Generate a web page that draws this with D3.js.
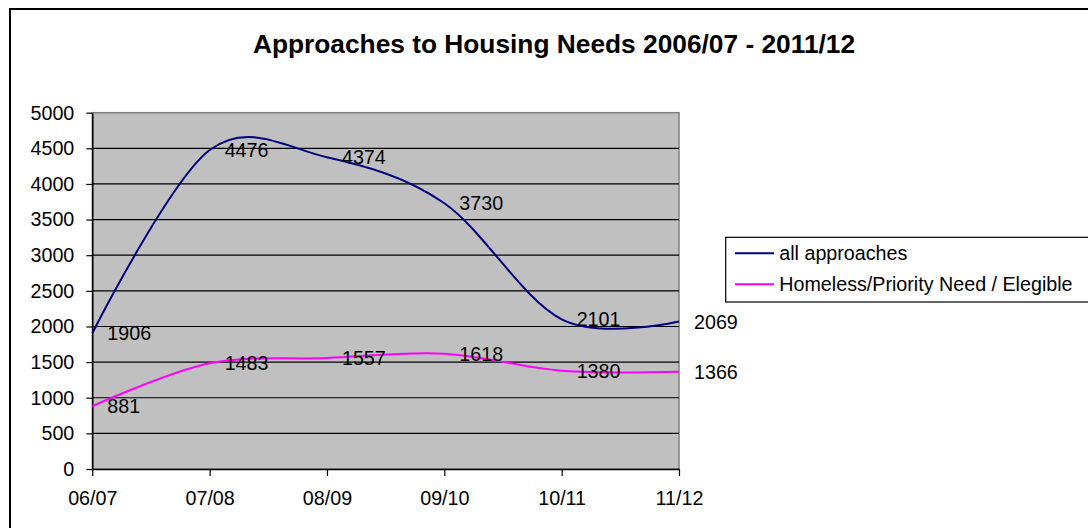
<!DOCTYPE html>
<html>
<head>
<meta charset="utf-8">
<script src="https://cdn.jsdelivr.net/npm/d3@7"></script>
<style>
  html, body { margin: 0; padding: 0; background: #fff; }
  svg { display: block; font-family: "Liberation Sans", Arial, sans-serif; }
</style>
</head>
<body>
<svg id="chart" width="1088" height="528"></svg>
<script>
const categories = ["06/07", "07/08", "08/09", "09/10", "10/11", "11/12"];
const allApproaches = [1906, 4476, 4374, 3730, 2101, 2069];
const homeless = [881, 1483, 1557, 1618, 1380, 1366];
const yTicks = [0, 500, 1000, 1500, 2000, 2500, 3000, 3500, 4000, 4500, 5000];
const seriesNames = ["all approaches", "Homeless/Priority Need / Elegible"];
const seriesColors = ["#000080", "#FF00FF"];
const titleText = "Approaches to Housing Needs 2006/07 - 2011/12";

(function () {
const svg = d3.select("#chart");
const FS = "19.7px";

const pLeft = 92.3, pRight = 679, pTop = 112.7, pBottom = 469;
const x = d3.scalePoint().domain(categories).range([pLeft, pRight]);
const y = d3.scaleLinear().domain([0, 5000]).range([pBottom, pTop]);

// outer chart border
svg.append("rect").attr("x", 10).attr("y", 9).attr("width", 1200).attr("height", 600)
  .attr("fill", "#fff").attr("stroke", "#000").attr("stroke-width", 2);

// title
svg.append("text").attr("x", 554).attr("y", 53).attr("text-anchor", "middle")
  .attr("font-size", "26.3px").attr("font-weight", "bold").attr("fill", "#000").text(titleText);

// plot area
svg.append("rect").attr("x", pLeft).attr("y", pTop).attr("width", pRight - pLeft).attr("height", pBottom - pTop)
  .attr("fill", "#C0C0C0").attr("stroke", "#808080").attr("stroke-width", 1.5);

// gridlines
svg.append("g").selectAll("line").data(yTicks.filter(d => d > 0 && d < 5000)).join("line")
  .attr("x1", pLeft).attr("x2", pRight).attr("y1", d => y(d)).attr("y2", d => y(d))
  .attr("stroke", "#000").attr("stroke-width", 1.2);

// y axis
const yAxis = svg.append("g").attr("transform", `translate(${pLeft},0)`)
  .call(d3.axisLeft(y).tickValues(yTicks).tickFormat(d3.format("d")).tickSize(6).tickPadding(12).tickSizeOuter(0));
yAxis.select(".domain").attr("stroke", "#000").attr("stroke-width", 1.5);
yAxis.selectAll(".tick line").attr("stroke", "#000").attr("stroke-width", 1.2);
yAxis.selectAll("text").attr("font-size", FS).attr("fill", "#000").attr("font-family", "Liberation Sans, Arial, sans-serif");

// x axis
const xAxis = svg.append("g").attr("transform", `translate(0,${pBottom})`)
  .call(d3.axisBottom(x).tickSize(7).tickPadding(15).tickSizeOuter(0));
xAxis.select(".domain").attr("stroke", "#000").attr("stroke-width", 1.5);
xAxis.selectAll(".tick line").attr("stroke", "#000").attr("stroke-width", 1.2);
xAxis.selectAll("text").attr("font-size", FS).attr("fill", "#000").attr("font-family", "Liberation Sans, Arial, sans-serif");

// lines
const line = d3.line().x((d, i) => x(categories[i])).y(d => y(d)).curve(d3.curveCardinal.tension(0));
[allApproaches, homeless].forEach((vals, si) => {
  svg.append("path").datum(vals).attr("d", line).attr("fill", "none")
    .attr("stroke", seriesColors[si]).attr("stroke-width", 2);
});

// data labels
[allApproaches, homeless].forEach((vals) => {
  svg.append("g").selectAll("text").data(vals).join("text")
    .attr("x", (d, i) => x(categories[i]) + 15)
    .attr("y", d => y(d) + 7)
    .attr("font-size", FS).attr("fill", "#000").text(d => d);
});

// legend
const lg = svg.append("g");
lg.append("rect").attr("x", 725.7).attr("y", 237.3).attr("width", 400).attr("height", 302 - 237.3)
  .attr("fill", "#fff").attr("stroke", "#000").attr("stroke-width", 1.2);
seriesNames.forEach((name, i) => {
  const ly = 253.3 + i * 31;
  lg.append("line").attr("x1", 735).attr("x2", 774).attr("y1", ly).attr("y2", ly)
    .attr("stroke", seriesColors[i]).attr("stroke-width", 2);
  lg.append("text").attr("x", 779.3).attr("y", ly + 7).attr("font-size", FS).attr("fill", "#000").text(name);
});
})();
</script>
</body>
</html>
